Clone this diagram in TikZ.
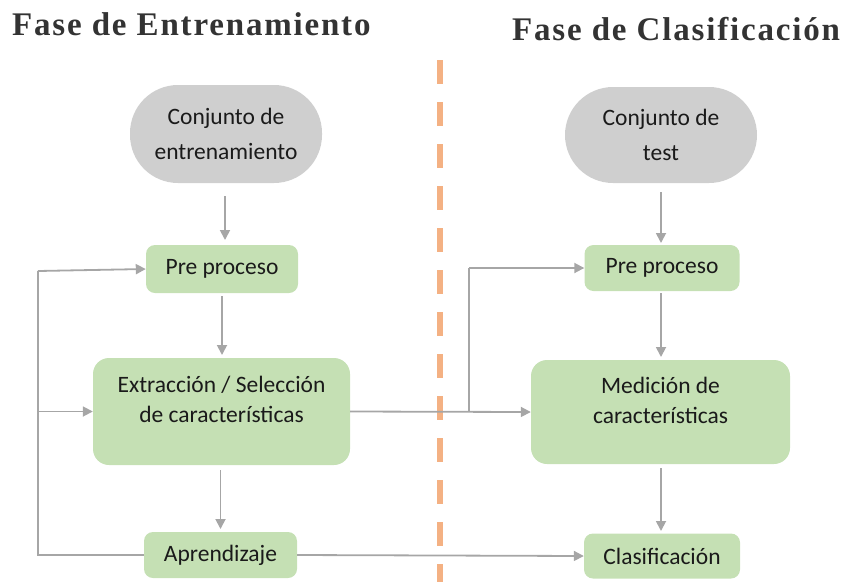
\documentclass[tikz,border=0pt]{standalone}
\usepackage{fontspec}
\setmainfont{Carlito}
\newfontfamily\titlefont[LetterSpace=5.5]{Liberation Serif}
\usetikzlibrary{arrows.meta}
\definecolor{boxgreen}{HTML}{C5E0B4}
\definecolor{boxgray}{HTML}{CFCFCF}
\definecolor{linegray}{HTML}{A6A6A6}
\definecolor{dashorange}{HTML}{F4B183}
\definecolor{txt}{HTML}{1A1A1A}
\definecolor{titlecol}{HTML}{333333}
\begin{document}
\begin{tikzpicture}[x=1pt,y=-1pt,
  greenbox/.style={fill=boxgreen, draw=none, rounded corners=9pt, align=center, text=txt,
    font=\fontsize{23.5}{30}\selectfont, inner sep=0pt},
  graystad/.style={fill=boxgray, draw=none, rounded corners=48pt, align=center, text=txt,
    font=\fontsize{23.5}{35}\selectfont, inner sep=0pt, minimum width=192pt, minimum height=98pt},
  conn/.style={draw=linegray, line width=1.8pt, -{Triangle[length=10pt,width=10pt]}},
  plainconn/.style={draw=linegray, line width=1.8pt},
  titletext/.style={font=\titlefont\bfseries\fontsize{33}{36}\selectfont, text=titlecol, inner sep=0pt}
]
\useasboundingbox (0,0) rectangle (851,582);
% titles
\node[titletext, anchor=west] (t1) at (12,24) {Fase de Entrenamiento};
\node[titletext, anchor=west] (t2) at (512,29) {Fase de Clasificación};
% divider
\draw[dashorange, line width=6pt, dash pattern=on 24pt off 18pt] (440,60) -- (440,582);
% left column
\node[graystad] (c1) at (226,134) {Conjunto de\\entrenamiento};
\node[greenbox, minimum width=152pt, minimum height=48pt] (p1) at (222,269) {Pre proceso};
\node[greenbox, minimum width=257pt, minimum height=107pt, rounded corners=16pt] (e1) at (221.5,411.5) {Extracción / Selección\\de características\\[-6pt]};
\node[greenbox, minimum width=153pt, minimum height=46pt] (a1) at (220.5,555) {Aprendizaje};
% right column
\node[graystad, minimum height=96pt] (c2) at (661,135) {Conjunto de\\test};
\node[greenbox, minimum width=155pt, minimum height=46pt] (p2) at (662,268) {Pre proceso};
\node[greenbox, minimum width=259pt, minimum height=104pt, rounded corners=16pt] (m2) at (660.5,412) {Medición de\\características\\[-6pt]};
\node[greenbox, minimum width=156pt, minimum height=45pt] (k2) at (662,556) {Clasificación};
% coordinates
\coordinate (lx1) at (38,555);
\coordinate (lx2) at (38,271);
\coordinate (lx3) at (38,411.5);
\coordinate (rx1) at (469,411.5);
\coordinate (rx2) at (469,268);
% vertical arrows
\draw[conn] (225,196) -- (225,240);
\draw[conn] (222,296) -- (222,355);
\draw[conn] (220.5,470) -- (220.5,529);
\draw[conn] (661,192) -- (661,243);
\draw[conn] (661,293) -- (661,357);
\draw[conn] (661,468) -- (661,531);
% loop left
\draw[plainconn] (a1.west) -- (lx1) -- (lx2);
\draw[conn] (lx2) -- (p1.west);
\draw[conn] (lx3) -- (e1.west);
% across
\draw[conn] (e1.east) -- (m2.west);
\draw[plainconn] (rx1) -- (rx2);
\draw[conn] (rx2) -- (p2.west);
\draw[conn] (a1.east) -- (k2.west);
\end{tikzpicture}
\end{document}
